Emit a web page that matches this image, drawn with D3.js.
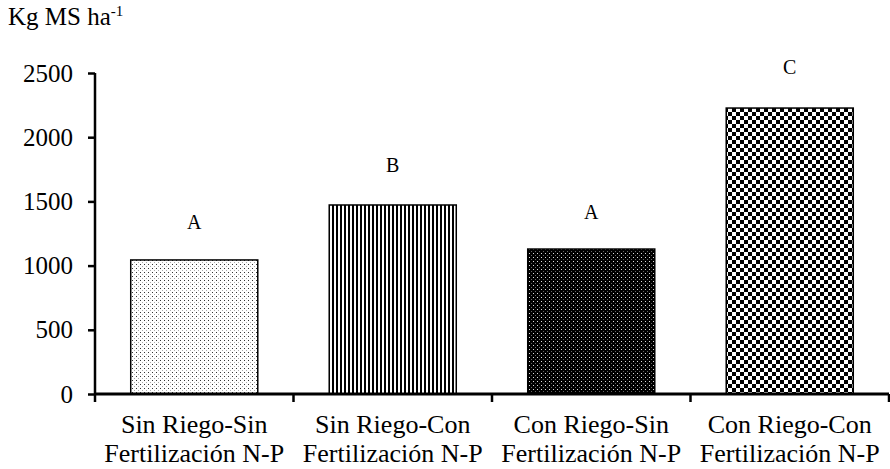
<!DOCTYPE html>
<html><head><meta charset="utf-8">
<script src="https://cdn.jsdelivr.net/npm/d3@7"></script>
<style>body{margin:0;background:#fff}svg{display:block}</style>
</head><body>
<svg id="c" width="890" height="469"></svg>
<script>
const categories = [["Sin Riego-Sin","Fertilización N-P"],["Sin Riego-Con","Fertilización N-P"],["Con Riego-Sin","Fertilización N-P"],["Con Riego-Con","Fertilización N-P"]];
const values = [1044, 1472, 1129, 2227];
const letters = ["A","B","A","C"];
const yTicks = [0,500,1000,1500,2000,2500];
const letterValues = [1285, 1730, 1360, 2495];

const FONT = "Liberation Serif";
const svg = d3.select("#c");
const x0 = 95, x1 = 889, yTop = 73, yBot = 394;
const x = d3.scaleBand().domain(d3.range(categories.length)).range([x0, x1]).paddingInner(0.36).paddingOuter(0.18);
const xb = d3.scaleBand().domain(d3.range(categories.length)).range([x0, x1]);
const y = d3.scaleLinear().domain([0, 2500]).range([yBot, yTop]);

function label(px, py, size, anchor) {
  return svg.append("text").attr("x", px).attr("y", py).attr("text-anchor", anchor)
    .style("font-family", FONT).attr("font-size", size).attr("fill", "#000");
}

const defs = svg.append("defs");
let p = defs.append("pattern").attr("id","p0").attr("width",4).attr("height",4).attr("patternUnits","userSpaceOnUse");
p.append("rect").attr("width",4).attr("height",4).attr("fill","#fff");
p.append("rect").attr("x",0).attr("y",0).attr("width",1).attr("height",1).attr("fill","#333");
p.append("rect").attr("x",2).attr("y",2).attr("width",1).attr("height",1).attr("fill","#aaa");
p = defs.append("pattern").attr("id","p1").attr("width",4).attr("height",4).attr("patternUnits","userSpaceOnUse");
p.append("rect").attr("width",4).attr("height",4).attr("fill","#fff");
p.append("rect").attr("width",2).attr("height",4).attr("fill","#000");
p = defs.append("pattern").attr("id","p2").attr("width",4).attr("height",4).attr("patternUnits","userSpaceOnUse");
p.append("rect").attr("width",4).attr("height",4).attr("fill","#000");
p.append("rect").attr("x",1).attr("y",1).attr("width",1).attr("height",1).attr("fill","#ddd");
p.append("rect").attr("x",3).attr("y",3).attr("width",1).attr("height",1).attr("fill","#666");
p = defs.append("pattern").attr("id","p3").attr("width",8).attr("height",8).attr("patternUnits","userSpaceOnUse");
p.append("rect").attr("width",8).attr("height",8).attr("fill","#fff");
p.append("rect").attr("width",4).attr("height",4).attr("fill","#000");
p.append("rect").attr("x",4).attr("y",4).attr("width",4).attr("height",4).attr("fill","#000");

svg.selectAll("rect.bar").data(values).join("rect").attr("class","bar")
  .attr("x",(d,i)=>x(i)).attr("width",x.bandwidth())
  .attr("y",d=>y(d)).attr("height",d=>y(0)-y(d))
  .attr("fill",(d,i)=>`url(#p${i})`).attr("stroke","#000").attr("stroke-width",1.5);

// y axis
const ya = svg.append("g").attr("transform",`translate(${x0},0)`)
  .call(d3.axisLeft(y).tickValues(yTicks).tickSize(7).tickFormat(""));
ya.select(".domain").attr("stroke","#000").attr("stroke-width",2.5).attr("d",`M0,${yTop}V${yBot}`);
ya.selectAll(".tick line").attr("stroke","#000").attr("stroke-width",2.5);
yTicks.forEach(v => label(73, y(v) + 8.5, 25, "end").text(d3.format("d")(v)));

// x axis
const xa = svg.append("g").attr("transform",`translate(0,${yBot})`);
xa.append("line").attr("x1",x0).attr("x2",x1).attr("stroke","#000").attr("stroke-width",3);
const bounds = xb.domain().map(i=>xb(i)).concat([x1]);
xa.selectAll("line.t").data(bounds).join("line").attr("class","t")
  .attr("x1",d=>d).attr("x2",d=>d).attr("y1",0).attr("y2",8).attr("stroke","#000").attr("stroke-width",2.5);
categories.forEach((d,i) => {
  const cx = xb(i)+xb.bandwidth()/2;
  const t = label(cx, yBot + 39, 26, "middle");
  d.forEach((s,k)=>t.append("tspan").attr("x",cx).attr("y",yBot + 39 + k*29).text(s));
});

// significance letters
letters.forEach((d,i) => label(x(i)+x.bandwidth()/2, y(letterValues[i]), 20, "middle").text(d));

// title
const tt = label(8, 25, 25, "start");
tt.append("tspan").text("Kg MS ha");
tt.append("tspan").attr("font-size",15).attr("dy",-9).text("-1");
</script>
</body></html>
